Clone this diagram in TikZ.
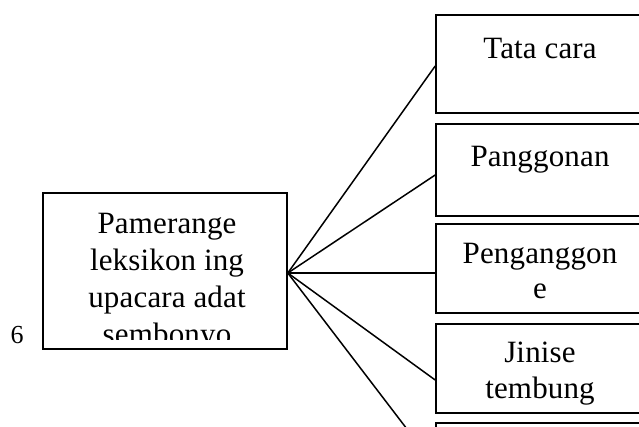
\documentclass[tikz,border=0pt]{standalone}
\usepackage{fontspec}
\setmainfont{Liberation Serif}[LetterSpace=0.5]
\begin{document}
\begin{tikzpicture}[x=1pt,y=-1pt,
  box/.style={draw, line width=1.6pt, inner sep=0pt},
  conn/.style={line width=1.5pt},
  lbl/.style={font=\fontsize{31}{37}\selectfont, anchor=base, inner sep=0pt}]
\useasboundingbox (0,0) rectangle (639,426);
\clip (0,0) rectangle (639,426);
% main box
\node[box, minimum width=244pt, minimum height=156pt] (main) at (165,271) {};
% right boxes (run past the right edge)
\node[box, minimum width=264pt, minimum height=98pt] (b1) at (568,64) {};
\node[box, minimum width=264pt, minimum height=92pt] (b2) at (568,170) {};
\node[box, minimum width=264pt, minimum height=89pt] (b3) at (568,268.5) {};
\node[box, minimum width=264pt, minimum height=89pt] (b4) at (568,368.5) {};
\node[box, minimum width=264pt, minimum height=89pt] (b5) at (568,467.5) {};
% connectors
\coordinate (hub) at ([yshift=-2pt]main.east);
\draw[conn] (hub) -- ([yshift=-2pt]b1.west);
\draw[conn] (hub) -- ([yshift=-5pt]b2.west);
\draw[conn] (hub) -- ([yshift=-4.5pt]b3.west);
\draw[conn] (hub) -- ([yshift=-11.5pt]b4.west);
\draw[conn] (hub) -- ([yshift=1.5pt]b5.west);
% main text (last line clipped)
\begin{scope}
\clip (43,193) rectangle (287,339);
\node[lbl] (m1) at (167,233) {Pamerange};
\node[lbl] (m2) at (167,270) {leksikon ing};
\node[lbl] (m3) at (167,307) {upacara adat};
\node[lbl] (m4) at (167,344) {sembonyo};
\end{scope}
% right texts
\node[lbl] (t1) at (540,58) {Tata cara};
\node[lbl] (t2) at (540,166) {Panggonan};
\node[lbl] (t3a) at (540,263) {Penganggon};
\node[lbl] (t3b) at (540,298) {e};
\node[lbl] (t4a) at (540,362) {Jinise};
\node[lbl] (t4b) at (540,398) {tembung};
% page number
\node[lbl, font=\fontsize{26}{30}\selectfont] (num) at (17,343) {6};
\end{tikzpicture}
\end{document}
